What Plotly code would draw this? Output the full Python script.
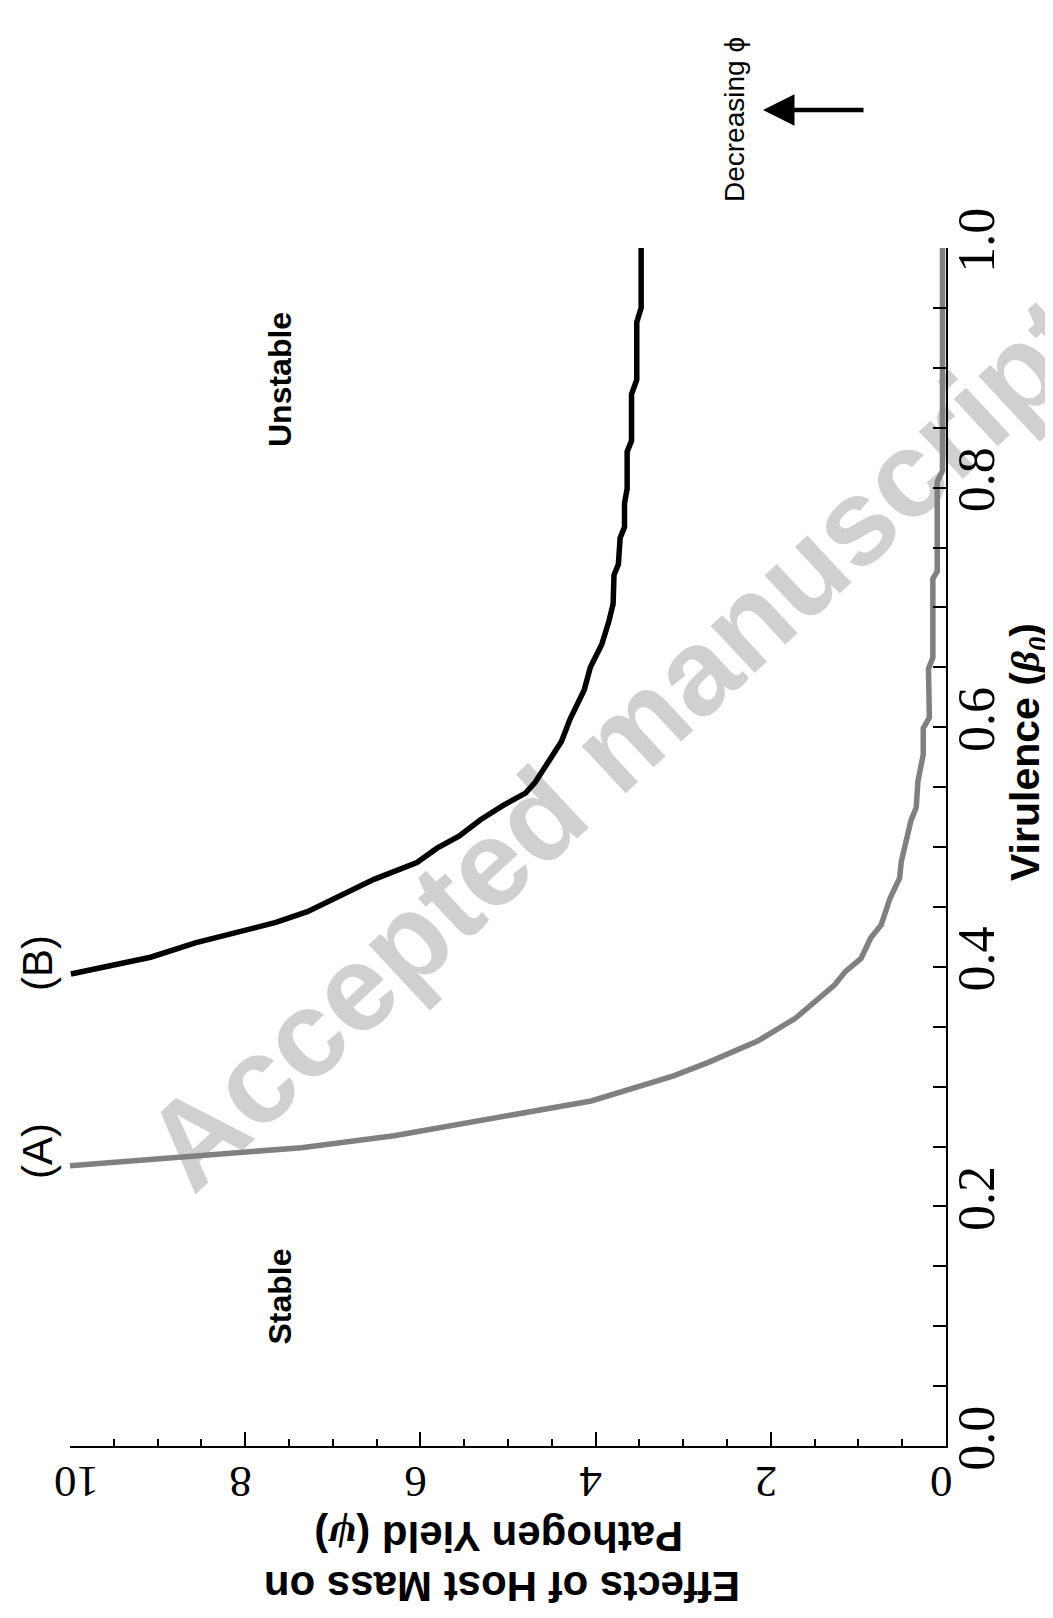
import plotly.graph_objects as go

# Curve (A): gray
beta_A = [0.234, 0.249, 0.259, 0.279, 0.288, 0.309, 0.320, 0.338, 0.357, 0.385, 0.396,
          0.407, 0.424, 0.435, 0.457, 0.474, 0.488, 0.522, 0.533, 0.555, 0.577, 0.599,
          0.608, 0.649, 0.658, 0.724, 0.730, 0.805, 0.814, 1.0]
psi_A = [10.0, 7.36, 6.30, 4.70, 4.05, 3.11, 2.72, 2.15, 1.72, 1.27, 1.15,
         0.97, 0.86, 0.74, 0.64, 0.53, 0.51, 0.40, 0.34, 0.32, 0.26, 0.26,
         0.19, 0.20, 0.15, 0.15, 0.10, 0.10, 0.04, 0.04]

# Curve (B): black
beta_B = [0.394, 0.399, 0.408, 0.420, 0.430, 0.437, 0.446, 0.458, 0.473, 0.487, 0.499,
          0.509, 0.523, 0.535, 0.545, 0.554, 0.571, 0.588, 0.607, 0.631, 0.650, 0.669,
          0.688, 0.703, 0.727, 0.736, 0.758, 0.767, 0.787, 0.799, 0.830, 0.839, 0.878,
          0.890, 0.938, 0.950, 1.0]
psi_B = [9.99, 9.64, 9.08, 8.57, 8.06, 7.65, 7.29, 6.94, 6.53, 6.04, 5.81,
         5.56, 5.31, 5.05, 4.80, 4.69, 4.54, 4.39, 4.29, 4.13, 4.06, 3.93,
         3.85, 3.80, 3.79, 3.74, 3.72, 3.67, 3.67, 3.64, 3.64, 3.59, 3.59,
         3.53, 3.53, 3.48, 3.48]

psi_ticks = [0, 2, 4, 6, 8, 10]
psi_ticktext = ["0", "2", "4", "6", "8", "10"]
beta_ticks = [0.0, 0.2, 0.4, 0.6, 0.8, 1.0]
beta_ticktext = ["0.0", "0.2", "0.4", "0.6", "0.8", "1.0"]

SANS = "Liberation Sans, Arial, sans-serif"
SERIF = "Liberation Serif, Times New Roman, serif"

fig = go.Figure()
fig.add_trace(go.Scatter(x=psi_A, y=beta_A, mode="lines",
                         line=dict(color="#808080", width=5.5), showlegend=False))
fig.add_trace(go.Scatter(x=psi_B, y=beta_B, mode="lines",
                         line=dict(color="#000000", width=5.5), showlegend=False))

W, H = 1053, 1618
L, R, T, B = 62, 938, 240, 1438

def px(x):
    return (x - L) / (R - L)

def py(y):
    return (B - y) / (B - T)

fig.update_layout(
    width=W, height=H, autosize=False,
    margin=dict(l=L, r=W - R, t=T, b=H - B, pad=0),
    paper_bgcolor="white", plot_bgcolor="white",
    showlegend=False,
    xaxis=dict(
        range=[10, 0], showgrid=False, zeroline=False,
        showline=True, linecolor="black", linewidth=1.5,
        ticks="inside", ticklen=14, tickwidth=1.5, tickcolor="black",
        tickvals=psi_ticks, ticktext=psi_ticktext, tickangle=180,
        tickfont=dict(family=SERIF, size=45, color="black"),
        ticklabelstandoff=10, ticklabelshift=16,
        minor=dict(dtick=0.5, tick0=0, ticks="inside", ticklen=7,
                   tickwidth=1.5, tickcolor="black", showgrid=False),
    ),
    yaxis=dict(
        range=[0, 1], side="right", showgrid=False, zeroline=False,
        showline=True, linecolor="black", linewidth=1.5,
        ticks="inside", ticklen=13, tickwidth=1.5, tickcolor="black",
        tickvals=beta_ticks, ticktext=beta_ticktext, tickangle=-90,
        tickfont=dict(family=SERIF, size=52, color="black"),
        ticklabelstandoff=-16,
        minor=dict(dtick=0.05, tick0=0, ticks="inside", ticklen=13,
                   tickwidth=1.5, tickcolor="black", showgrid=False),
    ),
)

# Watermark (drawn below traces)
fig.add_shape(type="rect", xref="paper", yref="paper",
              x0=px(592), x1=px(612), y0=py(736), y1=py(716),
              line=dict(width=0), fillcolor="rgba(0,0,0,0)", layer="below",
              label=dict(text="Accepted manuscript", textangle=-43,
                         textposition="middle center",
                         font=dict(family=SANS, size=122, color="#d0d0d0", weight="bold")))

ann = []
# Axis titles
ann.append(dict(xref="paper", yref="paper", x=px(1020), y=py(744),
                xanchor="center", yanchor="middle",
                text="Virulence (<i><span style='font-family:Liberation Serif'>β</span></i><sub><i><span style='font-family:Liberation Serif'>0</span></i></sub>)",
                textangle=-90, showarrow=False,
                font=dict(family=SANS, size=41, color="black", weight="bold")))
ann.append(dict(xref="paper", yref="paper", x=px(494), y=py(1579),
                xanchor="center", yanchor="middle",
                text="Effects of Host Mass on",
                textangle=180, showarrow=False,
                font=dict(family=SANS, size=42, color="black", weight="bold")))
ann.append(dict(xref="paper", yref="paper", x=px(491), y=py(1529),
                xanchor="center", yanchor="middle",
                text="Pathogen Yield (<i><span style='font-family:Liberation Serif'>ψ</span></i>)",
                textangle=180, showarrow=False,
                font=dict(family=SANS, size=42, color="black", weight="bold")))
# Region labels
ann.append(dict(xref="x", yref="y", x=7.6, y=0.89, text="Unstable", textangle=-90,
                xanchor="center", yanchor="middle",
                showarrow=False, font=dict(family=SANS, size=32, color="black", weight="bold")))
ann.append(dict(xref="x", yref="y", x=7.6, y=0.125, text="Stable", textangle=-90,
                xanchor="center", yanchor="middle",
                showarrow=False, font=dict(family=SANS, size=32, color="black", weight="bold")))
# Curve labels
ann.append(dict(xref="paper", yref="paper", x=px(29), y=py(1143), text="(A)", textangle=-90,
                xanchor="center", yanchor="middle",
                showarrow=False, font=dict(family=SANS, size=42, color="black")))
ann.append(dict(xref="paper", yref="paper", x=px(29), y=py(955), text="(B)", textangle=-90,
                xanchor="center", yanchor="middle",
                showarrow=False, font=dict(family=SANS, size=42, color="black")))
# Decreasing phi
ann.append(dict(xref="paper", yref="paper", x=px(727), y=py(112), text="Decreasing ϕ",
                xanchor="center", yanchor="middle",
                textangle=-90, showarrow=False,
                font=dict(family=SANS, size=28, color="black")))
ann.append(dict(xref="paper", yref="paper", x=px(755), y=py(102),
                ax=102, ay=0, text="",
                showarrow=True, arrowhead=2, arrowsize=1.4, arrowwidth=4.5,
                arrowcolor="black"))
fig.update_layout(annotations=ann)

fig.write_html("out.html")
